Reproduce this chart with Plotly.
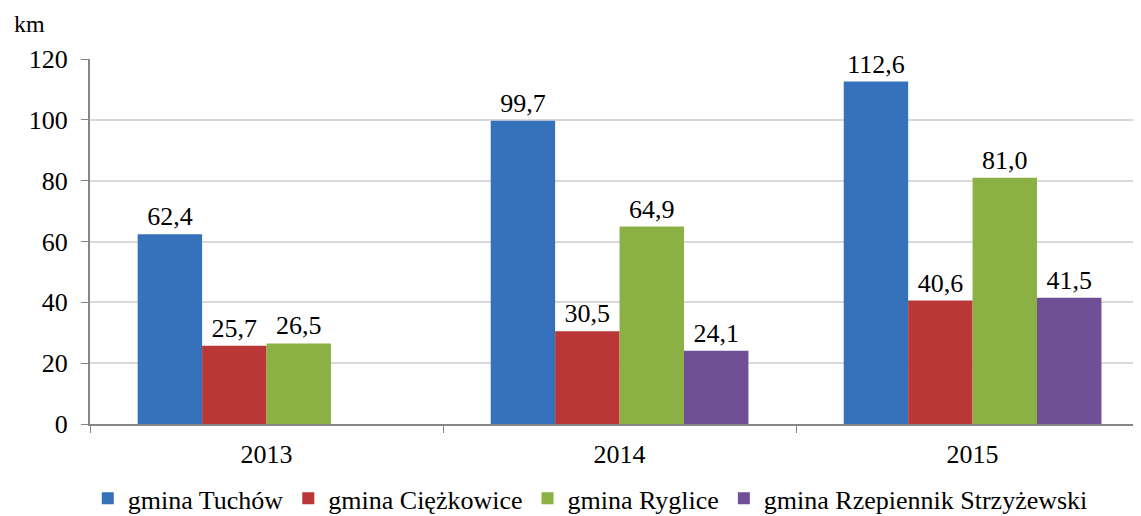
import plotly.graph_objects as go

years = ["2013", "2014", "2015"]
series_names = ["gmina Tuchów", "gmina Ciężkowice", "gmina Ryglice", "gmina Rzepiennik Strzyżewski"]
tuchow = [62.4, 99.7, 112.6]
ciezkowice = [25.7, 30.5, 40.6]
ryglice = [26.5, 64.9, 81.0]
rzepiennik = [None, 24.1, 41.5]
colors = ["#3671bb", "#b93736", "#8bb144", "#6f4f96"]

values = [tuchow, ciezkowice, ryglice, rzepiennik]

FONT = "Liberation Serif"

fig = go.Figure()
for name, vals, col in zip(series_names, values, colors):
    fig.add_trace(go.Bar(
        x=years, y=vals, name=name,
        marker=dict(color=col, line=dict(width=0)),
        text=[("" if v is None else f"{v:.1f}".replace(".", ",")) for v in vals],
        textposition="outside",
        textfont=dict(family=FONT, size=26, color="#000000"),
        cliponaxis=False,
    ))

fig.update_layout(
    width=1133, height=508,
    margin=dict(l=82, r=0, t=51, b=92, autoexpand=False),
    paper_bgcolor="white", plot_bgcolor="white",
    barmode="group", bargap=0.27, bargroupgap=0,
    font=dict(family=FONT, size=26, color="#000000"),
    showlegend=True,
    legend=dict(orientation="h", x=0.476, xanchor="center", y=-0.204, yanchor="middle",
                font=dict(family=FONT, size=26, color="#000000"), itemwidth=30, tracegroupgap=0),
    xaxis=dict(range=[-0.5, 2.477], type="category", tickson="boundaries", ticks="outside",
               ticklen=7, tickcolor="#868686", showline=True, linecolor="#868686", linewidth=2,
               tickfont=dict(family=FONT, size=26, color="#000000"), ticklabelstandoff=6),
    yaxis=dict(range=[0, 120], dtick=20, ticks="outside", ticklen=7, tickcolor="#868686",
               showline=True, linecolor="#868686", linewidth=2, gridcolor="#d9d9d9", gridwidth=2,
               tickfont=dict(family=FONT, size=26, color="#000000"), zeroline=False,
               ticklabelposition="outside", ticklabelstandoff=8),
)

fig.add_annotation(text="km", x=-78 / 1051, y=1 + 35 / 365, xref="paper", yref="paper",
                   xanchor="left", yanchor="middle", showarrow=False,
                   font=dict(family=FONT, size=24, color="#000000"))

fig.write_html("out.html")
